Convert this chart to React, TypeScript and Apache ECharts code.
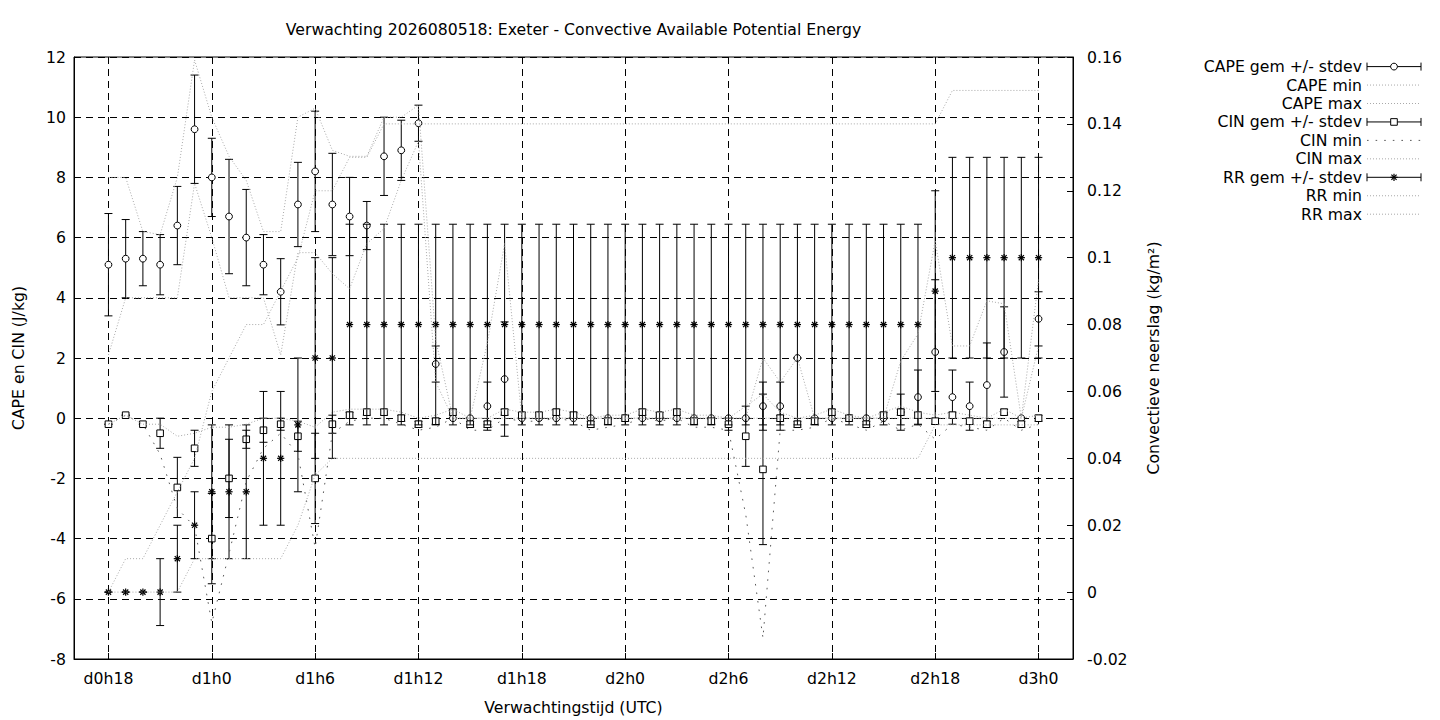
import React, { useEffect, useRef } from 'react';
import * as echarts from 'echarts';

const FONT = "'DejaVu Sans', 'Liberation Sans', sans-serif";
const FS = 15.7;

const TITLE = 'Verwachting 2026080518: Exeter - Convective Available Potential Energy';

// x categories (d0h16 .. d3h2); data runs d0h18 .. d3h0
const AXIS_CATEGORIES = [
  'd0h16', 'd0h17', 'd0h18', 'd0h19', 'd0h20', 'd0h21', 'd0h22', 'd0h23',
  'd1h0', 'd1h1', 'd1h2', 'd1h3', 'd1h4', 'd1h5', 'd1h6', 'd1h7', 'd1h8', 'd1h9', 'd1h10', 'd1h11',
  'd1h12', 'd1h13', 'd1h14', 'd1h15', 'd1h16', 'd1h17', 'd1h18', 'd1h19', 'd1h20', 'd1h21', 'd1h22', 'd1h23',
  'd2h0', 'd2h1', 'd2h2', 'd2h3', 'd2h4', 'd2h5', 'd2h6', 'd2h7', 'd2h8', 'd2h9', 'd2h10', 'd2h11',
  'd2h12', 'd2h13', 'd2h14', 'd2h15', 'd2h16', 'd2h17', 'd2h18', 'd2h19', 'd2h20', 'd2h21', 'd2h22', 'd2h23',
  'd3h0', 'd3h1', 'd3h2',
];
const TIMES = AXIS_CATEGORIES.slice(2, 57);

const CAPE_MEAN = [
  5.1, 5.3, 5.3, 5.1, 6.4, 9.6,
  8.0, 6.7, 6.0, 5.1, 4.2, 7.1,
  8.2, 7.1, 6.7, 6.4, 8.7, 8.9,
  9.8, 1.8, 0, 0, 0.4, 1.3,
  0, 0, 0, 0, 0, 0,
  0, 0, 0, 0, 0, 0,
  0, 0, 0.4, 0.4, 2.0, 0,
  0, 0, 0, 0, 0.2, 0.7,
  2.2, 0.7, 0.4, 1.1, 2.2, 0,
  3.3,
];
const CAPE_SD = [
  1.7, 1.3, 0.9, 1.0, 1.3, 1.8,
  1.3, 1.9, 1.6, 1.0, 1.1, 1.4,
  2.0, 1.7, 1.3, 0.8, 1.3, 1.0,
  0.6, 0.6, 0, 0, 0.8, 1.9,
  0, 0, 0, 0, 0, 0,
  0, 0, 0, 0, 0, 0,
  0, 0, 0.8, 0.8, 0, 0,
  0, 0, 0, 0, 0.6, 0.9,
  2.4, 0.9, 0.8, 1.4, 1.5, 0,
  0.9,
];
const CAPE_MIN = [
  2.1, 4.0, 4.0, 4.0, 4.0, 7.8,
  6.0, 4.0, 4.0, 4.0, 2.1, 5.5,
  5.5, 4.8, 4.3, 5.8, 6.3, 7.9,
  9.2, 1.2, 0, 0, 0, 0,
  0, 0, 0, 0, 0, 0,
  0, 0, 0, 0, 0, 0,
  0, 0, 0, 0, 0, 0,
  0, 0, 0, 0, 0, 0,
  0, 0, 0, 0, 0, 0,
  2.4,
];
const CAPE_MAX = [
  8.0, 8.0, 6.2, 6.1, 8.0, 11.9,
  10.0, 8.7, 7.9, 6.2, 6.2, 10.0,
  10.3, 8.9, 8.7, 8.7, 10.0, 10.0,
  10.4, 2.6, 0, 0, 2.5, 5.8,
  0, 0, 0, 0, 0, 0,
  0, 0, 0, 0, 0, 0,
  0, 0, 2.0, 1.2, 2.0, 0,
  0, 0, 0, 0, 1.9, 2.8,
  5.9, 2.4, 2.4, 3.9, 3.8, 0,
  4.6,
];

const CIN_MEAN = [
  -0.2, 0.1, -0.2, -0.5, -2.3, -1.0,
  -4.0, -2.0, -0.7, -0.4, -0.2, -0.6,
  -2.0, -0.2, 0.1, 0.2, 0.2, 0.0,
  -0.2, -0.1, 0.2, -0.2, -0.2, 0.2,
  0.1, 0.1, 0.2, 0.1, -0.2, -0.1,
  0.0, 0.2, 0.1, 0.2, -0.1, -0.1,
  -0.2, -0.6, -1.7, 0.0, -0.2, -0.1,
  0.2, 0.0, -0.2, 0.1, 0.2, 0.1,
  -0.1, 0.1, -0.1, -0.2, 0.2, -0.2,
  0.0,
];
const CIN_SD = [
  0, 0, 0, 0.5, 1.0, 0.6,
  1.5, 1.3, 0.3, 0.4, 0.2, 0.5,
  1.5, 0.3, 0.1, 0.1, 0.1, 0.1,
  0.1, 0.1, 0.1, 0.1, 0.1, 0.1,
  0.1, 0.1, 0.1, 0.1, 0.1, 0.1,
  0.1, 0.1, 0.1, 0.1, 0.1, 0.1,
  0.2, 1.0, 2.5, 0.1, 0.1, 0.1,
  0.1, 0.1, 0.1, 0.1, 0.1, 0.1,
  0.1, 0.1, 0.1, 0.1, 0.1, 0.1,
  0.1,
];
const CIN_MIN = [
  -0.2, 0.1, -0.2, -1.2, -3.0, -3.6,
  -6.8, -4.5, -2.1, -1.0, -0.5, -1.2,
  -4.3, -0.5, -0.1, 0.0, 0.0, -0.2,
  -0.4, -0.3, 0.0, -0.4, -0.4, 0.0,
  -0.1, -0.1, 0.0, -0.1, -0.4, -0.3,
  -0.2, 0.0, -0.1, 0.0, -0.3, -0.3,
  -0.4, -3.2, -7.3, -0.4, -0.4, -0.3,
  0.0, -0.2, -0.4, -0.1, -0.4, -0.2,
  -0.7, -0.2, -0.3, -0.4, 0.0, -0.4,
  -0.2,
];
const CIN_MAX = [
  -0.2, 0.1, -0.2, -0.2, -0.6, -0.5,
  -0.3, -0.3, -0.2, 0.0, 0.0, -0.1,
  -0.3, 0.2, 0.3, 0.3, 0.3, 0.2,
  0.0, 0.1, 0.3, 0.0, 0.0, 0.3,
  0.2, 0.2, 0.3, 0.2, 0.0, 0.1,
  0.1, 0.3, 0.2, 0.3, 0.1, 0.1,
  0.0, 0.4, 0.8, 0.2, 0.0, 0.1,
  0.3, 0.1, 0.0, 0.2, 0.4, 0.2,
  0.1, 0.2, 0.1, 0.0, 0.3, 0.0,
  0.1,
];

const RR_MEAN = [
  0, 0, 0, 0, 0.01, 0.02,
  0.03, 0.03, 0.03, 0.04, 0.04, 0.05,
  0.07, 0.07, 0.08, 0.08, 0.08, 0.08,
  0.08, 0.08, 0.08, 0.08, 0.08, 0.08,
  0.08, 0.08, 0.08, 0.08, 0.08, 0.08,
  0.08, 0.08, 0.08, 0.08, 0.08, 0.08,
  0.08, 0.08, 0.08, 0.08, 0.08, 0.08,
  0.08, 0.08, 0.08, 0.08, 0.08, 0.08,
  0.09, 0.10, 0.10, 0.10, 0.10, 0.10,
  0.10,
];
const RR_SD = [
  0, 0, 0, 0.01, 0.01, 0.01,
  0.02, 0.02, 0.02, 0.02, 0.02, 0.02,
  0.03, 0.03, 0.03, 0.03, 0.03, 0.03,
  0.03, 0.03, 0.03, 0.03, 0.03, 0.03,
  0.03, 0.03, 0.03, 0.03, 0.03, 0.03,
  0.03, 0.03, 0.03, 0.03, 0.03, 0.03,
  0.03, 0.03, 0.03, 0.03, 0.03, 0.03,
  0.03, 0.03, 0.03, 0.03, 0.03, 0.03,
  0.03, 0.03, 0.03, 0.03, 0.03, 0.03,
  0.03,
];
const RR_MIN = [
  0, 0, 0, 0, 0, 0.01,
  0.01, 0.01, 0.01, 0.01, 0.01, 0.02,
  0.035, 0.04, 0.04, 0.04, 0.04, 0.04,
  0.04, 0.04, 0.04, 0.04, 0.04, 0.04,
  0.04, 0.04, 0.04, 0.04, 0.04, 0.04,
  0.04, 0.04, 0.04, 0.04, 0.04, 0.04,
  0.04, 0.04, 0.04, 0.04, 0.04, 0.04,
  0.04, 0.04, 0.04, 0.04, 0.04, 0.04,
  0.05, 0.05, 0.05, 0.05, 0.05, 0.05,
  0.05,
];
const RR_MAX = [
  0, 0.01, 0.01, 0.02, 0.03, 0.04,
  0.06, 0.07, 0.08, 0.08, 0.09, 0.10,
  0.12, 0.12, 0.13, 0.13, 0.14, 0.14,
  0.14, 0.14, 0.14, 0.14, 0.14, 0.14,
  0.14, 0.14, 0.14, 0.14, 0.14, 0.14,
  0.14, 0.14, 0.14, 0.14, 0.14, 0.14,
  0.14, 0.14, 0.14, 0.14, 0.14, 0.14,
  0.14, 0.14, 0.14, 0.14, 0.14, 0.14,
  0.14, 0.15, 0.15, 0.15, 0.15, 0.15,
  0.15,
];

const LEGEND_LABELS = [
  'CAPE gem +/- stdev', 'CAPE min', 'CAPE max',
  'CIN gem +/- stdev', 'CIN min', 'CIN max',
  'RR gem +/- stdev', 'RR min', 'RR max',
];

const LIGHT = '#a9a9a9';
const DARK_DOT = '#5a5a5a';
const LIGHT_DASH = [1, 2];
const DARK_DASH = [1.6, 7];

type Marker = 'circle' | 'square' | 'star';

function markerShapes(kind: Marker, cx: number, cy: number): any[] {
  const st = { stroke: '#000', lineWidth: 1, fill: '#fff' };
  if (kind === 'circle') {
    return [{ type: 'circle', shape: { cx, cy, r: 3.4 }, style: st }];
  }
  if (kind === 'square') {
    return [{ type: 'rect', shape: { x: cx - 3.3, y: cy - 3.3, width: 6.6, height: 6.6 }, style: st }];
  }
  const s = 3.6;
  const d = 2.6;
  const ls = { stroke: '#000', lineWidth: 1.2 };
  return [
    { type: 'line', shape: { x1: cx - s, y1: cy, x2: cx + s, y2: cy }, style: ls },
    { type: 'line', shape: { x1: cx, y1: cy - s, x2: cx, y2: cy + s }, style: ls },
    { type: 'line', shape: { x1: cx - d, y1: cy - d, x2: cx + d, y2: cy + d }, style: ls },
    { type: 'line', shape: { x1: cx - d, y1: cy + d, x2: cx + d, y2: cy - d }, style: ls },
  ];
}

function errorBars(name: string, mean: number[], sd: number[], kind: Marker, yAxisIndex: number): any {
  return {
    type: 'custom',
    name,
    xAxisIndex: 0,
    yAxisIndex,
    silent: true,
    encode: { x: 0, y: 1 },
    data: TIMES.map((t, i) => [t, mean[i], sd[i]]),
    renderItem: (_params: any, api: any) => {
      const xi = api.value(0);
      const m = api.value(1);
      const s = api.value(2);
      const top = api.coord([xi, m + s]);
      const bot = api.coord([xi, m - s]);
      const c = api.coord([xi, m]);
      const ls = { stroke: '#000', lineWidth: 1 };
      const cw = 4;
      return {
        type: 'group',
        children: [
          { type: 'line', shape: { x1: top[0], y1: top[1], x2: bot[0], y2: bot[1] }, style: ls },
          { type: 'line', shape: { x1: top[0] - cw, y1: top[1], x2: top[0] + cw, y2: top[1] }, style: ls },
          { type: 'line', shape: { x1: bot[0] - cw, y1: bot[1], x2: bot[0] + cw, y2: bot[1] }, style: ls },
          ...markerShapes(kind, c[0], c[1]),
        ],
      };
    },
  };
}

function dotted(name: string, values: number[], yAxisIndex: number, color: string, dash: number[]): any {
  return {
    type: 'line',
    name,
    yAxisIndex,
    silent: true,
    symbol: 'none',
    lineStyle: { color, width: 1, type: dash },
    data: TIMES.map((t, i) => [t, values[i]]),
  };
}

function legendGraphic(): any[] {
  const out: any[] = [];
  const textRight = 1362;
  const x0 = 1367;
  const x1 = 1421;
  const xm = (x0 + x1) / 2;
  const markers: (Marker | null)[] = ['circle', null, null, 'square', null, null, 'star', null, null];
  LEGEND_LABELS.forEach((label, i) => {
    const y = 66.6 + i * 18.45;
    out.push({
      type: 'text',
      x: textRight,
      y,
      style: {
        text: label,
        fill: '#000',
        fontSize: FS,
        fontFamily: FONT,
        align: 'right',
        textAlign: 'right',
        verticalAlign: 'middle',
        textVerticalAlign: 'middle',
      },
    });
    const mk = markers[i];
    if (mk) {
      const ls = { stroke: '#000', lineWidth: 1 };
      out.push({ type: 'line', shape: { x1: x0, y1: y, x2: x1, y2: y }, style: ls });
      out.push({ type: 'line', shape: { x1: x0, y1: y - 4, x2: x0, y2: y + 4 }, style: ls });
      out.push({ type: 'line', shape: { x1: x1, y1: y - 4, x2: x1, y2: y + 4 }, style: ls });
      markerShapes(mk, xm, y).forEach((m) => out.push(m));
    } else {
      const isCinMin = label === 'CIN min';
      out.push({
        type: 'line',
        shape: { x1: x0, y1: y, x2: x1, y2: y },
        style: { stroke: isCinMin ? DARK_DOT : LIGHT, lineWidth: 1, lineDash: isCinMin ? DARK_DASH : LIGHT_DASH },
      });
    }
  });
  return out;
}

const tickShown = (index: number) => (index - 2) % 6 === 0;

function buildOption(): any {
  const gridDash = { color: '#000', width: 1, type: [7, 5] };
  const textStyle = { color: '#000', fontSize: FS, fontFamily: FONT };
  return {
    animation: false,
    backgroundColor: '#fff',
    textStyle: { fontFamily: FONT },
    title: {
      text: TITLE,
      left: 573.5,
      top: 21,
      padding: 0,
      textAlign: 'center',
      textStyle: { ...textStyle, fontWeight: 'normal' },
    },
    grid: {
      left: 74,
      right: 367,
      top: 57,
      bottom: 61,
      show: true,
      borderColor: '#000',
      borderWidth: 1,
      backgroundColor: 'transparent',
    },
    xAxis: {
      type: 'category',
      data: AXIS_CATEGORIES,
      boundaryGap: false,
      axisLine: { show: true, onZero: false, lineStyle: { color: '#000', width: 1 } },
      axisTick: { show: true, inside: true, length: 6, interval: tickShown, lineStyle: { color: '#000' } },
      axisLabel: { interval: tickShown, margin: 11, ...textStyle },
      splitLine: { show: true, interval: tickShown, lineStyle: gridDash },
      name: 'Verwachtingstijd (UTC)',
      nameLocation: 'middle',
      nameGap: 40,
      nameTextStyle: textStyle,
    },
    yAxis: [
      {
        type: 'value',
        position: 'left',
        min: -8,
        max: 12,
        interval: 2,
        axisLine: { show: true, onZero: false, lineStyle: { color: '#000', width: 1 } },
        axisTick: { show: true, inside: true, length: 6, lineStyle: { color: '#000' } },
        axisLabel: { margin: 8, ...textStyle },
        splitLine: { show: true, lineStyle: gridDash },
        name: 'CAPE en CIN (J/kg)',
        nameLocation: 'middle',
        nameGap: 48,
        nameTextStyle: textStyle,
      },
      {
        type: 'value',
        position: 'right',
        min: -0.02,
        max: 0.16,
        interval: 0.02,
        axisLine: { show: true, onZero: false, lineStyle: { color: '#000', width: 1 } },
        axisTick: { show: true, inside: true, length: 6, lineStyle: { color: '#000' } },
        axisLabel: {
          margin: 14,
          ...textStyle,
          formatter: (v: number) => String(parseFloat(v.toFixed(2))),
        },
        splitLine: { show: false },
        name: 'Convectieve neerslag (kg/m²)',
        nameLocation: 'middle',
        nameGap: 72,
        nameTextStyle: textStyle,
      },
    ],
    series: [
      errorBars('CAPE gem +/- stdev', CAPE_MEAN, CAPE_SD, 'circle', 0),
      dotted('CAPE min', CAPE_MIN, 0, LIGHT, LIGHT_DASH),
      dotted('CAPE max', CAPE_MAX, 0, LIGHT, LIGHT_DASH),
      errorBars('CIN gem +/- stdev', CIN_MEAN, CIN_SD, 'square', 0),
      dotted('CIN min', CIN_MIN, 0, DARK_DOT, DARK_DASH),
      dotted('CIN max', CIN_MAX, 0, LIGHT, LIGHT_DASH),
      errorBars('RR gem +/- stdev', RR_MEAN, RR_SD, 'star', 1),
      dotted('RR min', RR_MIN, 1, LIGHT, LIGHT_DASH),
      dotted('RR max', RR_MAX, 1, LIGHT, LIGHT_DASH),
    ],
    graphic: legendGraphic(),
  };
}

export default function App() {
  const ref = useRef<HTMLDivElement>(null);
  useEffect(() => {
    if (!ref.current) return;
    const chart = echarts.init(ref.current, null, { renderer: 'svg' });
    chart.setOption(buildOption());
    return () => {
      chart.dispose();
    };
  }, []);
  return (
    <div
      ref={ref}
      style={{ position: 'absolute', left: 0, top: 0, width: 1440, height: 720, background: '#fff' }}
    />
  );
}
